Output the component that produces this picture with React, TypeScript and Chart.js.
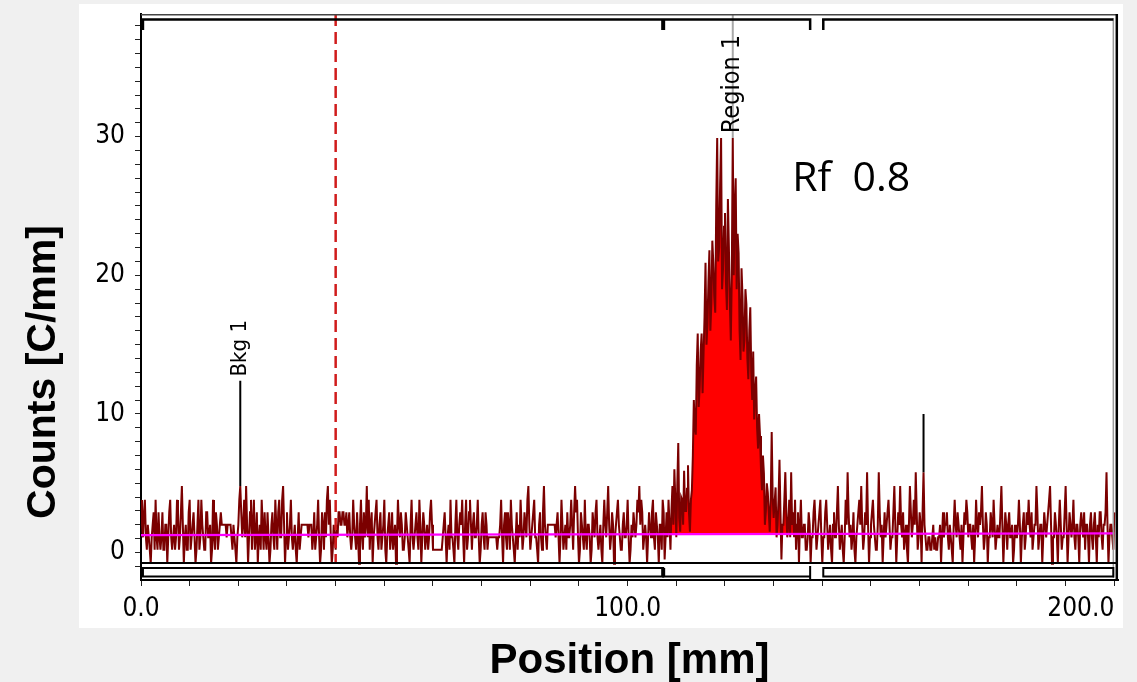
import React, { useEffect, useRef } from 'react';
import { Chart, registerables } from 'chart.js';

Chart.register(...registerables);

// ---- data -------------------------------------------------------------
const positionStepMm = 0.2; // sampling step of the scan (mm)

// counts per mm, one value per sample (0.0, 0.2, 0.4 ... 200.0 mm)
const counts: number[] = [
  3.8, 2.0, 1.1, 2.9, 3.8, 1.1, 0.2, 2.0, 1.1, 0.2, -0.8, 1.1, 2.0, 2.9, 0.2, 3.8, 1.1, 0.2, 2.9, 1.1,
  0.2, 1.1, 2.9, 0.2, 0.2, 2.0, 2.0, -0.8, 1.1, 2.9, 3.8, 1.1, 0.2, 1.1, 2.0, 0.2, 1.1, 3.8, 2.9, 0.2,
  1.1, 2.9, 4.8, 2.0, -0.8, 1.1, 2.0, 0.2, 0.2, 2.9, 3.8, 0.2, 1.1, 2.0, 2.9, 1.1, -0.8, 0.2, 2.0, 3.8,
  0.2, 1.1, 3.8, 2.0, 1.1, 0.2, 0.2, 2.9, 2.9, 1.1, 1.1, 2.0, -0.8, 0.2, 3.8, 1.1, 0.2, 2.9, 2.0, 0.2,
  1.1, 2.0, 2.9, 2.0, 2.0, 2.0, 2.0, 2.0, 1.1, 2.0, 2.0, 2.0, 2.0, 1.1, 0.2, 2.0, 1.1, 0.2, -0.8, 1.1,
  2.0, 3.8, 4.8, 2.9, 1.1, 2.0, 3.8, 1.1, 4.8, 2.0, -0.8, 1.1, 2.9, 3.8, 0.2, 2.0, 3.8, 0.2, 1.1, 2.9,
  -0.8, 1.1, 2.0, 0.2, 3.8, 2.0, 0.2, 2.9, 1.1, 0.2, 2.9, 1.1, -0.8, 0.2, 2.0, 2.9, 1.1, 0.2, 3.8, 2.0,
  0.2, 2.9, 3.8, 1.1, 1.1, 3.8, 4.8, 2.0, -0.8, 1.1, 2.9, 0.2, 1.1, 2.0, 3.8, 1.1, 0.2, 1.1, 2.0, 0.2,
  -0.8, 1.1, 2.9, 0.2, 1.1, 2.0, 2.0, 2.0, 2.0, 2.0, 2.0, 2.0, 1.1, 2.0, 2.0, 2.0, 0.2, 1.1, 2.9, 0.2,
  1.1, 2.0, 3.8, 1.1, -0.8, 0.2, 2.9, 2.0, 0.2, 2.9, 1.1, 3.8, 4.8, 2.0, 3.8, 1.1, -0.8, 0.2, 2.0, 1.1,
  0.2, 2.0, 1.1, 2.9, 2.9, 2.0, 2.0, 2.9, 2.9, 2.0, 2.0, 2.9, 1.1, 2.0, 2.9, 1.1, 0.2, 1.1, 3.8, 2.0,
  1.1, 0.2, 2.9, 1.1, -0.8, 2.0, 3.8, 1.1, 0.2, 2.9, 1.1, 2.0, 4.8, 1.1, 3.8, 0.2, 2.0, 2.9, -0.8, 1.1,
  2.0, 2.9, 3.8, 1.1, 0.2, 2.0, 2.9, 0.2, 1.1, 2.0, 3.8, 0.2, -0.8, 1.1, 2.0, 2.9, 0.2, 1.1, 2.9, 0.2,
  1.1, 2.0, -0.8, 1.1, 3.8, 2.0, 1.1, 2.9, 2.0, 0.2, 0.2, 1.1, 2.9, 2.0, 1.1, 0.2, -0.8, 2.0, 3.8, 1.1,
  0.2, 1.1, 2.0, 2.9, 1.1, 0.2, 3.8, 2.0, -0.8, 1.1, 2.9, 2.0, 0.2, 1.1, 2.0, 0.2, 1.1, 2.9, 3.8, 2.0,
  0.2, 0.2, 0.2, 0.2, 0.2, 0.2, 0.2, 0.2, 0.2, 0.2, 1.1, 2.0, 2.9, 1.1, -0.8, 1.1, 2.0, 0.2, 3.8, 1.1,
  1.1, 0.2, -0.8, 2.0, 3.8, 1.1, 0.2, 2.0, 2.9, 2.0, 3.8, 1.1, -0.8, 2.0, 3.8, 0.2, 1.1, 2.9, 3.8, 2.0,
  0.2, 2.0, 2.9, 1.1, 1.1, 2.0, 3.8, 1.1, -0.8, 0.2, 2.0, 2.9, 1.1, 0.2, 2.9, 2.0, 0.2, 1.1, 1.1, 1.1,
  1.1, 1.1, 1.1, 1.1, 1.1, 1.1, 0.2, 1.1, 1.1, 2.0, 3.8, 1.1, -0.8, 2.0, 2.9, 1.1, 0.2, 2.9, 2.0, 0.2,
  3.8, 2.0, 1.1, 0.2, -0.8, 1.1, 2.9, 0.2, 2.0, 1.1, 3.8, 2.0, 0.2, 1.1, 2.9, 2.0, 1.1, 3.8, 4.8, 2.0,
  0.2, 1.1, 2.0, 2.9, 3.8, 1.1, 1.1, 0.2, -0.8, 2.0, 2.9, 1.1, 0.2, 2.9, 4.8, 2.0, 1.1, 0.2, 2.0, 2.0,
  2.0, 2.0, 2.0, 2.0, 2.0, 2.0, 1.1, 2.0, 2.9, 1.1, -0.8, 1.1, 3.8, 2.0, 0.2, 1.1, 2.0, 0.2, 2.9, 1.1,
  1.1, 2.0, 3.8, 2.0, 0.2, 2.9, 4.8, 2.9, 3.8, 1.1, -0.8, 0.2, 2.9, 2.0, 1.1, 0.2, 3.8, 1.1, 0.2, 2.0,
  2.0, 1.1, -0.8, 0.2, 2.9, 2.0, 1.1, 2.9, 3.8, 1.1, 0.2, 1.1, 2.0, 0.2, -0.8, 2.0, 3.8, 2.0, 1.1, 2.9,
  4.8, 2.0, 0.2, 1.1, 2.9, 2.0, -0.8, 1.1, 2.0, 2.9, 3.8, 2.0, 1.1, 0.2, 0.2, 2.0, 2.9, 1.1, 1.1, 2.0,
  3.8, 1.1, -0.8, 0.2, 2.0, 1.1, 2.9, 2.0, 1.1, 2.0, 3.8, 2.9, 4.8, 2.0, 3.8, 2.9, 0.2, 1.1, 2.0, 1.1,
  -0.8, 1.1, 2.9, 2.0, 1.1, 2.9, 3.8, 1.1, 0.2, 2.9, 2.0, 1.1, -0.8, 2.0,
  2.0, 0.2, 3.8, 2.9, -0.5, 1.1,
  2.9, 1.1, 3.8, 2.0, 0.2, 3.0, 4.8, 2.0, 6.0, 3.8, 1.1, 4.8, 7.9, 2.5, 1.5, 4.0, 3.8, 2.0, 5.9, 3.0,
  3.0, 4.6, 6.3, 2.9, 1.5, 3.8, 4.5, 7.0, 11.0, 9.0, 8.5, 13.5, 15.8, 10.5, 12.0, 14.5, 15.8, 11.5, 14.4, 17.0,
  20.9, 15.0, 16.5, 19.5, 21.8, 16.0, 18.0, 22.5, 20.9, 18.5, 17.3, 25.0, 29.9, 21.0, 22.0, 26.5, 29.9, 19.0, 20.5, 23.5,
  24.5, 19.5, 17.5, 25.5, 22.1, 18.0, 15.3, 20.0, 29.9, 20.0, 24.8, 27.0, 19.0, 23.0, 21.6, 16.0, 13.9, 20.5, 18.5, 14.5,
  15.3, 19.0, 17.9, 14.0, 12.5, 16.0, 17.7, 13.0, 11.0, 14.5, 9.6, 11.5, 12.7, 9.0, 7.5, 10.0, 8.4, 6.0, 4.5, 7.0,
  5.7, 2.0, 3.0, 5.0, 4.3, 2.9, 1.5, 3.8, 8.7, 4.0, 2.5, 3.6, 4.7, 1.1, 2.0, 3.8, 6.7, 2.9, -0.5, 2.0,
  2.0, 3.8, 5.8, 2.9, 1.1, 2.0, 3.8, 1.1, 5.8, 2.0, 2.9, 1.1, 3.8, 0.2, 2.0, 2.9, -0.8, 2.0, 3.8, 1.1,
  1.1, 2.0, 2.0, 0.2, 0.2, 1.1, 2.9, 2.0, -0.8, 1.1, 1.1, 2.9, 3.8, 2.0, 0.2, 1.1, 2.0, 2.9, 3.8, 1.1,
  -0.8, 1.1, 1.1, 2.9, 3.8, 2.0, 0.2, 1.1, 2.0, 0.2, -0.8, 2.0, 2.9, 1.1, 1.1, 2.9, 4.8, 2.0, 0.2, 1.1,
  2.0, 0.2, -0.8, 1.1, 3.8, 2.0, 5.8, 2.9, 1.1, 2.0, 0.2, 1.1, 2.9, 0.2, -0.8, 1.1, 2.0, 2.9, 3.8, 2.0,
  4.8, 2.0, 0.2, 1.1, 2.9, 2.0, 5.8, 2.0, -0.8, 1.1, 2.0, 2.9, 3.8, 2.0, 1.1, 0.2, 0.2, 2.0, 5.8, 2.9,
  1.1, 2.0, -0.8, 1.1, 2.9, 1.1, 2.0, 2.9, 3.8, 2.0, 0.2, 1.1, 1.1, 2.9, 4.8, 2.0, -0.8, 1.1, 2.9, 2.0,
  4.8, 2.0, 1.1, 2.9, 0.2, 1.1, 2.0, 0.2, -0.8, 2.0, 4.8, 2.9, 1.1, 2.0, 3.8, 2.0, 5.8, 2.9, 0.2, 1.1,
  2.9, 2.0, -0.8, 2.9, 5.8, 2.0, 1.1, 0.2, 0.2, 1.1, 1.1, 0.2, 0.2, 1.1, 2.0, 0.2, 1.1, 0.2, 0.2, 1.1,
  1.1, 2.0, -0.8, 1.1, 2.9, 1.1, 2.0, 2.0, 2.9, 1.1, 0.2, 2.0, 1.1, 0.2, -0.8, 2.0, 3.8, 2.0, 1.1, 2.9,
  2.0, 1.1, 0.2, 2.0, -0.8, 1.1, 2.9, 2.0, 3.8, 2.9, 1.1, 2.0, 2.0, 1.1, 0.2, 2.0, -0.8, 1.1, 3.8, 2.0,
  1.1, 2.9, 2.0, 2.9, 4.8, 2.0, 0.2, 1.1, 2.9, 2.0, -0.8, 1.1, 1.1, 2.9, 2.0, 1.1, 3.8, 2.0, 0.2, 1.1,
  2.0, 1.1, 1.1, 2.9, 4.8, 2.0, -0.8, 1.1, 2.9, 2.0, 0.2, 2.0, 2.9, 1.1, 1.1, 2.0, -0.8, 0.2, 2.0, 1.1,
  1.1, 2.0, 3.8, 2.0, -0.8, 1.1, 2.0, 2.9, 0.2, 1.1, 2.9, 2.0, 3.8, 2.0, 1.1, 2.9, 0.2, 1.1, 2.0, 2.0,
  4.8, 2.9, 0.2, 1.1, 2.0, 2.0, -0.8, 1.1, 2.9, 2.0, 1.1, 2.0, 2.9, 3.8, 4.8, 2.0, -0.8, 1.1, 1.1, 2.9,
  2.0, 1.1, -0.8, 2.0, 3.8, 2.0, 0.2, 1.1, 1.1, 2.9, 4.8, 2.0, -0.8, 1.1, 2.9, 2.0, 1.1, 2.0, 3.8, 1.1,
  0.2, 2.0, 2.0, 1.1, -0.8, 2.0, 2.9, 2.0, 1.1, 2.9, 0.2, 2.0, 2.0, 1.1, -0.8, 2.0, 2.9, 1.1, 0.2, 2.0,
  2.9, 1.1, -0.8, 2.0, 1.1, 2.9, 2.9, 1.1, 0.2, 2.0, 2.0, 2.9, 5.8, 2.0, -0.8, 1.1, 2.0, 2.0, 1.1, 0.2,
  2.9,
];

// background (magenta) line end points
const baselinePositions = [0, 200];
const baselineCounts = [1.25, 1.39];

// regions of interest (mm)
const roiStarts = [0.4, 107.3, 140.2];
const roiEnds = [107.3, 137.5, 199.8];
const peakRoi = 1;

// markers
const originMarkerX = 40;
const originMarkerCounts = [38.85, -0.76];
const bkgMarkerX = 20.4;
const bkgMarkerCounts = [12.4, 4.8];
const regionMarkerX = 121.6;
const regionMarkerCounts = [38.85, 29.9];
const extraMarkerX = 160.8;
const extraMarkerCounts = [10.0, 5.8];

const markerLabels = ['Bkg 1', 'Region 1'];
const markerLabelX = [20.4, 121.6];
const markerLabelCounts = [12.7, 30.25];

const annotationText = 'Rf  0.8';
const annotationX = 133.8;
const annotationCounts = 26.1;

const xRange = [0, 200.76];
const yRange = [-1.98, 38.85];
const xTickStep = 10;
const yTickStep = 1;
const xLabelEvery = 100;
const yLabelEvery = 10;

const xTitle = 'Position [mm]';
const yTitle = 'Counts [C/mm]';

// ---- component --------------------------------------------------------
const TICK_FONT = "'DejaVu Sans Condensed', 'DejaVu Sans', sans-serif";
const TITLE_FONT = "'Liberation Sans', Arial, sans-serif";

export default function App() {
  const ref = useRef<HTMLCanvasElement>(null);

  useEffect(() => {
    const canvas = ref.current;
    if (!canvas) return;

    const tracePoints = counts.map((y, i) => ({ x: Math.round(i * positionStepMm * 10) / 10, y }));
    const roiPoints = tracePoints.filter((p) => p.x >= roiStarts[peakRoi] && p.x <= roiEnds[peakRoi]);
    const vline = (x: number, ys: number[]) => ys.map((y) => ({ x, y }));

    const decor = {
      id: 'decor',
      beforeDraw(chart: any) {
        const { ctx, chartArea: a, width, height } = chart;
        ctx.save();
        ctx.fillStyle = '#f0f0f0';
        ctx.fillRect(0, 0, width, height);
        ctx.fillStyle = '#ffffff';
        ctx.fillRect(a.left - 62, a.top - 10, a.right - a.left + 67, a.bottom - a.top + 58);
        ctx.restore();
      },
      afterDatasetsDraw(chart: any) {
        const { ctx, chartArea: a } = chart;
        const xs = chart.scales.x;
        const ys = chart.scales.y;
        const px = (v: number) => xs.getPixelForValue(v);
        const py = (v: number) => ys.getPixelForValue(v);
        ctx.save();
        ctx.lineCap = 'butt';
        // outer top line
        ctx.strokeStyle = '#444';
        ctx.lineWidth = 1.5;
        ctx.beginPath();
        ctx.moveTo(a.left, a.top + 0.75);
        ctx.lineTo(a.right, a.top + 0.75);
        ctx.stroke();
        // right border
        ctx.strokeStyle = '#000';
        ctx.lineWidth = 2.5;
        ctx.beginPath();
        ctx.moveTo(a.right - 1.2, a.top);
        ctx.lineTo(a.right - 1.2, a.bottom);
        ctx.stroke();
        // gray line at end of last region
        ctx.strokeStyle = '#9a9a9a';
        ctx.lineWidth = 1.5;
        ctx.beginPath();
        ctx.moveTo(px(roiEnds[2]), a.top + 4);
        ctx.lineTo(px(roiEnds[2]), a.bottom - 2);
        ctx.stroke();

        // ROI brackets at top
        const topY = a.top + 5.5;
        const hookY = a.top + 16;
        ctx.strokeStyle = '#000';
        ctx.lineWidth = 2.5;
        ctx.beginPath();
        ctx.moveTo(px(roiStarts[0]), hookY);
        ctx.lineTo(px(roiStarts[0]), topY);
        ctx.lineTo(px(roiEnds[1]), topY);
        ctx.lineTo(px(roiEnds[1]), hookY);
        ctx.moveTo(px(roiStarts[2]), hookY);
        ctx.lineTo(px(roiStarts[2]), topY);
        ctx.lineTo(px(roiEnds[2]), topY);
        ctx.stroke();
        ctx.lineWidth = 4;
        ctx.beginPath();
        ctx.moveTo(px(roiStarts[1]), topY);
        ctx.lineTo(px(roiStarts[1]), hookY);
        ctx.stroke();

        // bottom line of the trace area
        ctx.lineWidth = 2;
        ctx.beginPath();
        ctx.moveTo(a.left, a.bottom - 17);
        ctx.lineTo(a.right, a.bottom - 17);
        ctx.stroke();
        // ROI boxes at bottom
        const bTop = a.bottom - 12;
        const bBot = a.bottom - 3.5;
        ctx.lineWidth = 2;
        ctx.strokeRect(px(roiStarts[0]), bTop, px(roiEnds[0]) - px(roiStarts[0]), bBot - bTop);
        ctx.strokeRect(px(roiStarts[2]), bTop, px(roiEnds[2]) - px(roiStarts[2]), bBot - bTop);
        ctx.beginPath();
        ctx.moveTo(px(roiStarts[1]), bTop);
        ctx.lineTo(px(roiStarts[1]), bBot);
        ctx.lineTo(px(roiEnds[1]), bBot);
        ctx.moveTo(px(roiEnds[1]), bTop - 2);
        ctx.lineTo(px(roiEnds[1]), a.bottom);
        ctx.stroke();
        ctx.lineWidth = 4;
        ctx.beginPath();
        ctx.moveTo(px(roiStarts[1]), bTop);
        ctx.lineTo(px(roiStarts[1]), bBot);
        ctx.stroke();

        // marker labels
        ctx.fillStyle = '#000';
        ctx.textAlign = 'left';
        ctx.textBaseline = 'middle';
        markerLabels.forEach((t, i) => {
          ctx.save();
          ctx.font = `${i === 0 ? 22 : 25}px ${TICK_FONT}`;
          ctx.translate(px(markerLabelX[i]), py(markerLabelCounts[i]));
          ctx.rotate(-Math.PI / 2);
          ctx.fillText(t, 0, 0);
          ctx.restore();
        });
        // Rf annotation
        ctx.font = "41px 'Open Sans', 'Noto Sans', sans-serif";
        ctx.textBaseline = 'alphabetic';
        ctx.fillText(annotationText, px(annotationX), py(annotationCounts));
        ctx.restore();
      },
      afterDraw(chart: any) {
        const { ctx, chartArea: a } = chart;
        ctx.save();
        ctx.fillStyle = '#000';
        ctx.font = `bold 41px ${TITLE_FONT}`;
        ctx.textAlign = 'center';
        ctx.textBaseline = 'middle';
        ctx.translate(a.left - 97, (a.top + a.bottom) / 2 + 75);
        ctx.rotate(-Math.PI / 2);
        ctx.fillText(yTitle, 0, 0);
        ctx.restore();
      },
    };

    const line = (data: any[], color: string, width: number, extra: any = {}) => ({
      type: 'line' as const,
      data,
      borderColor: color,
      borderWidth: width,
      pointRadius: 0,
      pointHoverRadius: 0,
      tension: 0,
      fill: false,
      ...extra,
    });

    const chart = new Chart(canvas, {
      type: 'line',
      data: {
        datasets: [
          line(baselinePositions.map((x, i) => ({ x, y: baselineCounts[i] })), '#ff00ff', 2.2),
          line(vline(regionMarkerX, regionMarkerCounts), '#a8a8a8', 2),
          line(vline(bkgMarkerX, bkgMarkerCounts), '#000000', 2),
          line(vline(extraMarkerX, extraMarkerCounts), '#000000', 2),
          line(vline(originMarkerX, originMarkerCounts), '#d01c1c', 2.5, { borderDash: [12, 6] }),
          line(tracePoints, '#7b0000', 2),
          line(roiPoints, 'rgba(0,0,0,0)', 0, {
            fill: { target: 0, above: '#ff0000', below: 'rgba(0,0,0,0)' },
            backgroundColor: '#ff0000',
          }),
        ],
      },
      options: {
        responsive: false,
        animation: false,
        devicePixelRatio: 1,
        events: [],
        layout: { padding: { top: 14, right: 19, bottom: 0, left: 0 } },
        plugins: { legend: { display: false }, tooltip: { enabled: false } },
        scales: {
          x: {
            type: 'linear',
            min: xRange[0],
            max: xRange[1],
            afterBuildTicks: (s: any) => {
              s.ticks = [{ value: s.ticks[0].value }, ...s.ticks];
            },
            afterFit: (s: any) => {
              s.height = 102;
              s.paddingLeft = 0;
              s.paddingRight = 0;
            },
            ticks: {
              stepSize: xTickStep,
              includeBounds: false,
              autoSkip: false,
              maxRotation: 0,
              minRotation: 0,
              align: 'inner',
              padding: 8,
              color: '#000',
              font: { family: TICK_FONT, size: 26 },
              callback: (v: any, i: number) =>
                i === 0 ? '' : Math.abs(Number(v) % xLabelEvery) < 1e-6 ? Number(v).toFixed(1) : '',
            },
            grid: { drawOnChartArea: false, drawTicks: true, tickLength: 6, tickColor: '#222', tickWidth: 1 },
            border: { display: true, color: '#000', width: 2 },
            title: {
              display: true,
              text: xTitle,
              color: '#000',
              padding: 0,
              font: { family: TITLE_FONT, size: 42, weight: 'bold', lineHeight: 1 },
            },
          },
          y: {
            type: 'linear',
            min: yRange[0],
            max: yRange[1],
            afterFit: (s: any) => {
              s.width = 141;
              s.paddingTop = 0;
              s.paddingBottom = 0;
            },
            ticks: {
              stepSize: yTickStep,
              includeBounds: false,
              autoSkip: false,
              padding: 10,
              color: '#000',
              font: { family: TICK_FONT, size: 26 },
              callback: (v: any) => (Math.abs(Number(v) % yLabelEvery) < 1e-6 ? String(Math.round(Number(v))) : ''),
            },
            grid: { drawOnChartArea: false, drawTicks: true, tickLength: 6, tickColor: '#222', tickWidth: 1 },
            border: { display: true, color: '#000', width: 2 },
          },
        },
      } as any,
      plugins: [decor],
    });

    return () => chart.destroy();
  }, []);

  return (
    <div style={{ position: 'fixed', left: 0, top: 0, width: 1137, height: 682, background: '#f0f0f0' }}>
      <canvas ref={ref} width={1137} height={682} style={{ display: 'block', width: 1137, height: 682 }} />
    </div>
  );
}
